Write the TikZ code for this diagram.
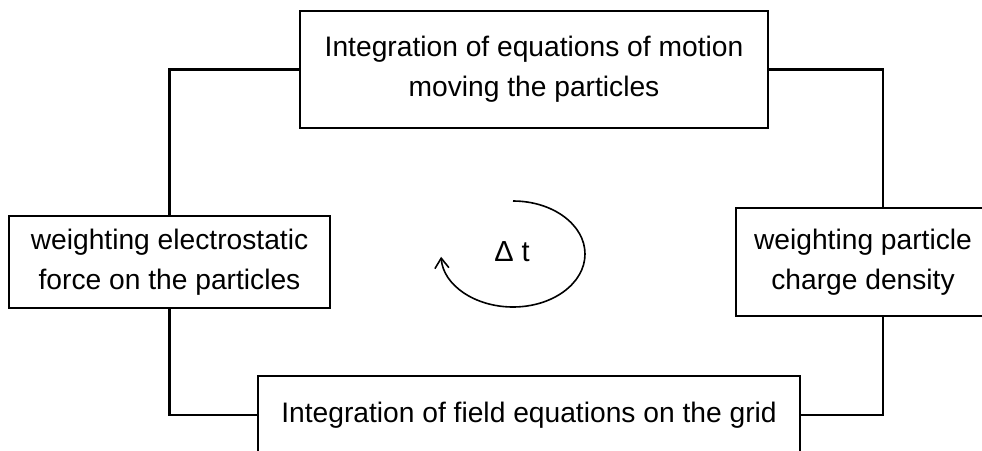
\documentclass[tikz,border=0pt]{standalone}
\usepackage{fontspec}
\setmainfont{Liberation Sans}
\usetikzlibrary{arrows.meta}
\begin{document}
\begin{tikzpicture}[x=1pt,y=-1pt,
  box/.style={draw, line width=2.2pt, align=center, inner sep=0pt,
    font=\fontsize{28.2}{40}\selectfont},
  conn/.style={line width=2.2pt}]
\useasboundingbox (0,0) rectangle (982,450);
\clip (0,0) rectangle (982,450);
\node[box, minimum width=468pt, minimum height=117pt] (top) at (534,69.5)
  {Integration of equations of motion\\moving the particles};
\node[box, minimum width=321pt, minimum height=92pt] (left) at (169.5,262)
  {weighting electrostatic\\force on the particles};
\node[box, minimum width=254pt, minimum height=108pt] (right) at (863,262)
  {weighting particle\\charge density};
\node[box, minimum width=542pt, minimum height=78pt] (bottom) at (529,415)
  {Integration of field equations on the grid};
\coordinate (rt) at ([xshift=20pt]right.north);
\coordinate (rb) at ([xshift=20pt]right.south);
\draw[conn] (top.west) -| (left.north);
\draw[conn] (left.south) |- (bottom.west);
\draw[conn] (bottom.east) -| (rb);
\draw[conn] (top.east) -| (rt);
\node[font=\fontsize{29}{32}\selectfont] (dt) at (512,252) {Δ t};
\draw[line width=1.6pt, -{Straight Barb[length=10pt,width=14pt]}]
  (513,201) arc[start angle=-90, end angle=177, x radius=72, y radius=53];
\end{tikzpicture}
\end{document}
